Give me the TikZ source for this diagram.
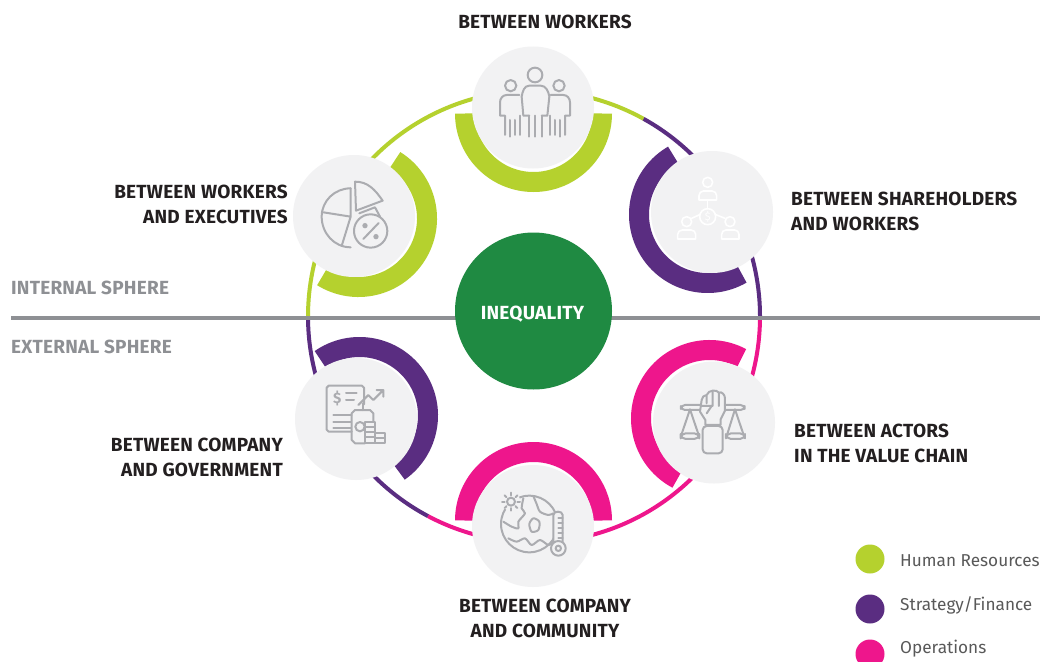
\documentclass[tikz,border=0pt]{standalone}
\usepackage{fontspec}
\setmainfont{Fira Sans}
\newfontfamily\capfont[LetterSpace=1.2]{Fira Sans}
\definecolor{lime}{HTML}{B5D12E}
\definecolor{purp}{HTML}{5A2D81}
\definecolor{mag}{HTML}{EE168C}
\definecolor{dgreen}{HTML}{1F8A42}
\definecolor{disc}{HTML}{F2F2F3}
\definecolor{icong}{HTML}{ABACB0}
\definecolor{sph}{HTML}{8E9094}
\definecolor{ink}{HTML}{231F20}
\tikzset{
  ring/.style={line width=4pt},
  crescent/.style={line width=20pt},
  iconcircle/.style={circle,fill=disc,draw=none,minimum size=122pt,inner sep=0pt},
  caption/.style={font=\capfont\bfseries\fontsize{19}{25}\selectfont,text=ink,inner sep=0pt},
  sphere/.style={font=\capfont\bfseries\fontsize{19}{22}\selectfont,text=sph,inner sep=0pt,anchor=west},
  legendtext/.style={font=\fontsize{17.2}{20}\selectfont,text=black!65,inner sep=0pt,anchor=west},
  legenddot/.style={circle,minimum size=29pt,inner sep=0pt,draw=none},
  ic/.style={draw=icong,line width=2pt,line join=round,line cap=round},
  icw/.style={draw=white,line width=1.6pt,line join=round,line cap=round},
}
\newcommand{\crescentarc}[5]{% cx cy start end color
  \draw[crescent,#5] ($(#1,-#2)+(#3:68.5)$) arc (#3:#4:68.5);}
\usetikzlibrary{calc}
\begin{document}
\begin{tikzpicture}[x=1pt,y=1pt]
\useasboundingbox (0,0) rectangle (1040,-661);
\fill[white] (0,0) rectangle (1040,-661);
% outer ring
\coordinate (rc) at (534,-316.5);
\draw[ring,lime] ($(rc)+(180:226)$) arc (180:61:226);
\draw[ring,purp] ($(rc)+(61:226)$) arc (61:0:226);
\draw[ring,mag] ($(rc)+(0:226)$) arc (0:-118:226);
\draw[ring,purp] ($(rc)+(-118:226)$) arc (-118:-180:226);
% crescents
\crescentarc{533.5}{113.5}{0}{-180}{lime}
\crescentarc{707.5}{214.5}{120}{300}{purp}
\crescentarc{358.5}{218.5}{58}{-122}{lime}
\crescentarc{359.5}{415.5}{125}{-55}{purp}
\crescentarc{709.5}{418.5}{62}{242}{mag}
\crescentarc{533.5}{520.5}{180}{0}{mag}
% divider
\coordinate (dl) at (11,-318);
\coordinate (dr) at (1040,-318);
\draw[line width=4pt,sph] (dl) -- (dr);
% discs
\node[iconcircle] (workers) at (533,-107.5) {};
\node[iconcircle] (share) at (712,-212) {};
\node[iconcircle] (exec) at (354,-216) {};
\node[iconcircle] (gov) at (356,-419) {};
\node[iconcircle] (actors) at (714,-422.5) {};
\node[iconcircle] (community) at (533,-526) {};
\node[circle,fill=dgreen,minimum size=157pt,inner sep=0pt] (ineq) at (533.5,-311) {};
\node[font=\capfont\bfseries\fontsize{19}{22}\selectfont,text=white,inner sep=0pt] (ineqtext) at (532.5,-314) {INEQUALITY};
% captions
\node[caption] (c1) at (545,-21.5) {BETWEEN WORKERS};
\node[caption,align=left,anchor=west] (c2) at (791,-211.5) {BETWEEN SHAREHOLDERS\\AND WORKERS};
\node[caption,align=right,anchor=east] (c3) at (288,-204) {BETWEEN WORKERS\\AND EXECUTIVES};
\node[caption,align=right,anchor=east] (c4) at (283,-457) {BETWEEN COMPANY\\AND GOVERNMENT};
\node[caption,align=left,anchor=west] (c5) at (794,-443) {BETWEEN ACTORS\\IN THE VALUE CHAIN};
\node[caption,align=center] (c6) at (545,-618.5) {BETWEEN COMPANY\\AND COMMUNITY};
\node[sphere] (s1) at (11,-287.5) {INTERNAL SPHERE};
\node[sphere] (s2) at (11,-346.5) {EXTERNAL SPHERE};
% legend
\node[legenddot,fill=lime] (l1) at (870,-559) {};
\node[legenddot,fill=purp] (l2) at (870,-609) {};
\node[legenddot,fill=mag] (l3) at (870,-654) {};
\node[legendtext] (t1) at (900,-561) {Human Resources};
\node[legendtext] (t2) at (900,-605) {Strategy/Finance};
\node[legendtext] (t3) at (900,-649) {Operations};
% workers icon
\begin{scope}[shift={(490,-55)},x=.3333pt,y=-.3333pt]
 \draw[ic] (135,60) circle (22);
 \draw[ic] (118,182) -- (100,182) -- (95,125) to[out=80,in=180] (118,92) -- (152,92) to[out=0,in=100] (178,125) -- (172,182) -- (155,182);
 \draw[ic] (118,182) -- (118,245) (135,182) -- (135,245) (155,182) -- (155,245);
 \draw[ic] (62,92) circle (17);
 \draw[ic] (88,120) -- (50,120) to[out=180,in=90] (30,142) -- (30,182) -- (45,182) -- (45,240);
 \draw[ic] (60,195) -- (60,245) (75,195) -- (75,240) (90,182) -- (90,240);
 \draw[ic] (207,92) circle (17);
 \draw[ic] (182,120) -- (220,120) to[out=0,in=90] (240,142) -- (240,182) -- (225,182) -- (225,240);
 \draw[ic] (210,195) -- (210,245) (195,195) -- (195,240) (180,182) -- (180,240);
\end{scope}
% shareholders icon
\begin{scope}[shift={(665,-165)},x=.3333pt,y=-.3333pt]
 \draw[icw] (128,52) circle (15);
 \draw[icw] (102,105) -- (102,92) to[out=90,in=180] (115,78) -- (141,78) to[out=0,in=90] (155,92) -- (155,105) -- cycle;
 \draw[icw] (128,155) circle (24);
 \draw[icw] (128,105) -- (128,131);
 \draw[icw] (65,170) circle (15);
 \draw[icw] (38,222) -- (38,208) to[out=90,in=180] (52,195) -- (78,195) to[out=0,in=90] (92,208) -- (92,222) -- cycle;
 \draw[icw] (195,170) circle (15);
 \draw[icw] (170,222) -- (170,208) to[out=90,in=180] (183,195) -- (209,195) to[out=0,in=90] (222,208) -- (222,222) -- cycle;
 \draw[icw] (80,160) -- (106,148) (150,148) -- (180,160);
 \node[text=white,font=\fontsize{11}{11}\selectfont,inner sep=0pt] (dollarA) at (128,155) {\$};
\end{scope}
% pie icon
\begin{scope}[shift={(280,-40)},x=.3333pt,y=-.3333pt]
 \draw[ic] (212,445) to[out=180,in=90] (125,530) to[out=-90,in=180] (212,622);
 \draw[ic] (212,445) -- (212,530) -- (130,517) (212,530) -- (185,618);
 \draw[ic] (225,425) to[out=0,in=125] (308,482) -- (228,512) -- cycle;
 \draw[ic] (238,520) -- (285,502) -- (300,530);
 \draw[ic] (272,573) circle (50);
 \draw[ic] (250,597) -- (296,549);
 \fill[icong] (255,557) circle (8) (288,590) circle (8);
\end{scope}
% chart icon
\begin{scope}[shift={(310,-375)},x=.3333pt,y=-.3333pt]
 \draw[ic] (125,170) -- (56,170) -- (50,164) -- (50,38) -- (56,32) -- (156,32) -- (162,38) -- (162,88);
 \node[text=icong,font=\bfseries\fontsize{15}{15}\selectfont,inner sep=0pt] (dollarB) at (82,70) {\$};
 \draw[ic] (108,55) -- (140,55) (108,75) -- (132,75);
 \draw[ic] (70,120) -- (125,120) (70,140) -- (122,140) (70,160) -- (122,160);
 \draw[ic] (145,90) -- (175,60) -- (190,75) -- (220,45) (200,45) -- (220,45) -- (220,65);
 \draw[ic] (160,85) -- (160,105);
 \draw[ic] (165,205) -- (135,205) -- (125,195) -- (125,115) -- (135,105) -- (180,105) -- (190,115) -- (190,140);
 \draw[ic] (150,155) circle (14);
 \draw[ic,fill=disc] (165,140) rectangle (195,205);
 \draw[ic] (165,155) -- (195,155) (165,170) -- (195,170) (165,187) -- (195,187);
 \draw[ic] (195,175) -- (225,175) -- (225,205) -- (195,205) (195,190) -- (225,190);
\end{scope}
% scales icon
\begin{scope}[shift={(520,-320)},x=.3333pt,y=-.3333pt]
 \draw[ic,rounded corners=4pt] (483,255) rectangle (674,270);
 \draw[ic] (510,268) -- (485,342) (510,268) -- (535,342);
 \draw[ic] (645,268) -- (622,342) (645,268) -- (670,342);
 \draw[ic,rounded corners=5pt] (482,340) -- (538,340) -- (538,357) -- (482,357) -- cycle;
 \draw[ic,rounded corners=5pt] (618,340) -- (675,340) -- (675,357) -- (618,357) -- cycle;
 \draw[ic,fill=disc] (556,315) -- (556,300) -- (540,275) -- (545,240) to[out=80,in=180] (560,225) to[out=60,in=180] (578,212) to[out=0,in=120] (597,218) to[out=30,in=90] (615,235) -- (615,272) -- (602,298) -- (602,315) -- cycle;
 \draw[ic] (578,214) -- (578,258) (597,218) -- (597,258) (560,228) -- (560,250) (545,258) -- (575,258) -- (560,280);
 \draw[ic,rounded corners=4pt] (548,318) rectangle (608,400);
\end{scope}
% globe icon
\begin{scope}[shift={(490,-480)},x=.3333pt,y=-.3333pt]
 \draw[ic] (118,132) circle (85);
 \fill[disc] (63,65) circle (28);
 \draw[ic] (63,65) circle (12);
 \foreach \a in {0,45,...,315} {\draw[ic] ($(63,65)+(\a:-19)$) -- ($(63,65)+(\a:-27)$);}
 \draw[ic] plot[smooth] coordinates {(100,55) (95,85) (105,100) (85,125) (85,145) (65,140) (40,125)};
 \draw[ic] plot[smooth] coordinates {(130,48) (140,72) (150,95) (175,105) (190,100)};
 \draw[ic] plot[smooth cycle] coordinates {(130,115) (148,125) (145,150) (125,155) (118,132)};
 \draw[ic] plot[smooth] coordinates {(55,175) (80,185) (105,175) (125,195) (150,180) (175,195) (190,185)};
 \draw[ic,fill=disc] (190,190) -- (190,105) to[out=90,in=180] (204,95) to[out=0,in=90] (218,105) -- (218,190);
 \draw[ic,fill=disc] (205,205) circle (22);
 \draw[ic] (205,205) circle (8);
 \draw[ic] (205,115) -- (218,115) (205,130) -- (218,130) (205,145) -- (218,145) (205,160) -- (218,160) (205,175) -- (218,175);
\end{scope}
\end{tikzpicture}
\end{document}
